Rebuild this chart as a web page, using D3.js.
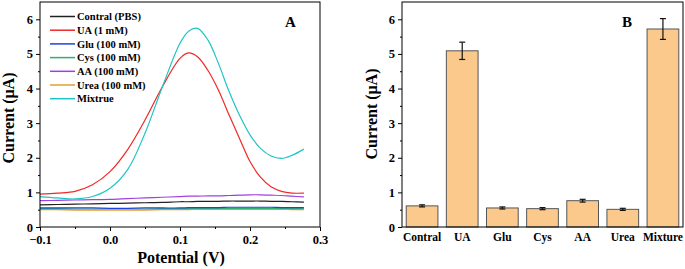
<!DOCTYPE html>
<html>
<head>
<meta charset="utf-8">
<script src="https://cdn.jsdelivr.net/npm/d3@7"></script>
<style>
  body { margin: 0; background: #fff; }
  svg text { font-family: "Liberation Serif", "Times New Roman", serif; font-weight: bold; }
</style>
</head>
<body>
<svg width="685" height="269"></svg>
<script>
// Panel A: potential (V) and current (uA) per curve
const potential = [-0.1, -0.075, -0.05, -0.025, 0.0, 0.025, 0.05, 0.075, 0.1, 0.112, 0.125, 0.14, 0.155, 0.17, 0.185, 0.2, 0.215, 0.23, 0.245, 0.26, 0.277];
const contral = [0.64, 0.65, 0.66, 0.67, 0.68, 0.69, 0.70, 0.71, 0.73, 0.73, 0.74, 0.74, 0.74, 0.75, 0.75, 0.75, 0.75, 0.74, 0.74, 0.73, 0.72];
const ua      = [0.95, 0.98, 1.03, 1.22, 1.60, 2.23, 3.09, 4.06, 4.87, 5.03, 4.92, 4.52, 3.95, 3.24, 2.56, 1.89, 1.44, 1.16, 1.03, 0.98, 0.98];
const glu     = [0.55, 0.55, 0.55, 0.55, 0.54, 0.54, 0.55, 0.55, 0.55, 0.56, 0.56, 0.56, 0.56, 0.57, 0.57, 0.57, 0.57, 0.57, 0.56, 0.56, 0.56];
const cys     = [0.53, 0.53, 0.52, 0.52, 0.52, 0.52, 0.52, 0.53, 0.53, 0.53, 0.54, 0.54, 0.54, 0.54, 0.54, 0.54, 0.54, 0.54, 0.54, 0.53, 0.53];
const aa      = [0.76, 0.77, 0.78, 0.79, 0.80, 0.82, 0.84, 0.86, 0.88, 0.89, 0.89, 0.90, 0.90, 0.91, 0.92, 0.93, 0.93, 0.92, 0.91, 0.89, 0.87];
const urea    = [0.50, 0.50, 0.49, 0.49, 0.49, 0.49, 0.49, 0.50, 0.50, 0.50, 0.51, 0.51, 0.51, 0.51, 0.51, 0.51, 0.51, 0.51, 0.51, 0.50, 0.50];
const mixtrue = [0.88, 0.84, 0.81, 0.88, 1.12, 1.65, 2.71, 4.06, 5.31, 5.65, 5.74, 5.40, 4.72, 3.92, 3.23, 2.66, 2.27, 2.05, 1.98, 2.07, 2.25];

const seriesNames = ["Contral (PBS)", "UA (1 mM)", "Glu (100 mM)", "Cys (100 mM)", "AA (100 mM)", "Urea (100 mM)", "Mixtrue"];
const seriesValues = [contral, ua, glu, cys, aa, urea, mixtrue];
const seriesColors = ["#222222", "#f02828", "#2040e0", "#30b070", "#a040e0", "#e0a030", "#20c4c4"];

// Panel B: bar values with error
const categories = ["Contral", "UA", "Glu", "Cys", "AA", "Urea", "Mixture"];
const barValues = [0.61, 5.09, 0.55, 0.53, 0.76, 0.51, 5.72];
const barErrors = [0.03, 0.25, 0.03, 0.03, 0.04, 0.03, 0.30];

const yTicks = [0, 1, 2, 3, 4, 5, 6];
const xTicks = [-0.1, 0.0, 0.1, 0.2, 0.3];

const svg = d3.select("svg");

// ---------- panel A ----------
const a = {left: 40, top: 2, width: 280, height: 225};
const gA = svg.append("g").attr("transform", "translate(" + a.left + "," + a.top + ")");

const xA = d3.scaleLinear().domain([-0.1, 0.3]).range([0, a.width]);
const yA = d3.scaleLinear().domain([0, 6.5]).range([a.height, 0]);

const line = d3.line()
    .x((d, i) => xA(potential[i]))
    .y(d => yA(d))
    .curve(d3.curveCatmullRom.alpha(0.5));

// low lines first, then AA, contral, UA, mixture on top
const order = [5, 3, 2, 0, 4, 1, 6];
order.forEach(k => {
    gA.append("path")
        .datum(seriesValues[k])
        .attr("fill", "none")
        .attr("stroke", seriesColors[k])
        .attr("stroke-width", 1.2)
        .attr("d", line);
});

function frame(g, w, h) {
    g.append("rect")
        .attr("width", w).attr("height", h)
        .attr("fill", "none").attr("stroke", "#000").attr("stroke-width", 1);
}

function yAxis(g, y) {
    g.append("g")
        .call(d3.axisLeft(y).tickValues(d3.range(0.5, 6.5, 1)).tickSize(2).tickFormat(""))
        .call(s => s.select(".domain").remove());
    g.append("g")
        .call(d3.axisLeft(y).tickValues(yTicks).tickSize(4).tickPadding(3).tickFormat(d3.format("d")))
        .call(s => s.select(".domain").remove())
        .selectAll("text").style("font-size", "12.5px");
}

frame(gA, a.width, a.height);
yAxis(gA, yA);

gA.append("g")
    .attr("transform", "translate(0," + a.height + ")")
    .call(d3.axisBottom(xA).tickValues(d3.range(-0.05, 0.3, 0.1)).tickSize(2).tickFormat(""))
    .call(s => s.select(".domain").remove());
gA.append("g")
    .attr("transform", "translate(0," + a.height + ")")
    .call(d3.axisBottom(xA).tickValues(xTicks).tickSize(4).tickPadding(4).tickFormat(d3.format(".1f")))
    .call(s => s.select(".domain").remove())
    .selectAll("text").style("font-size", "12.5px");

// legend
const legend = gA.append("g").attr("transform", "translate(10,14.5)");
seriesNames.forEach((name, i) => {
    const row = legend.append("g").attr("transform", "translate(0," + i * 13.7 + ")");
    row.append("line").attr("x1", 0).attr("x2", 25)
        .attr("stroke", seriesColors[i]).attr("stroke-width", 1.5);
    row.append("text").attr("x", 27).attr("dy", "0.35em")
        .style("font-size", "10.5px").text(name);
});

gA.append("text").attr("x", 245).attr("y", 25).style("font-size", "15px").text("A");

svg.append("text")
    .attr("transform", "translate(14,118) rotate(-90)")
    .attr("text-anchor", "middle").style("font-size", "16px").text("Current (μA)");
svg.append("text")
    .attr("x", 181).attr("y", 263)
    .attr("text-anchor", "middle").style("font-size", "16px").text("Potential (V)");

// ---------- panel B ----------
const b = {left: 402, top: 2, width: 281, height: 225};
const gB = svg.append("g").attr("transform", "translate(" + b.left + "," + b.top + ")");

const xB = d3.scaleBand().domain(categories).range([0, b.width]).paddingInner(0.21).paddingOuter(0.105);
const yB = d3.scaleLinear().domain([0, 6.5]).range([b.height, 0]);

gB.selectAll(".bar")
    .data(categories)
    .join("rect")
    .attr("class", "bar")
    .attr("x", d => xB(d))
    .attr("y", (d, i) => yB(barValues[i]))
    .attr("width", xB.bandwidth())
    .attr("height", (d, i) => yB(0) - yB(barValues[i]))
    .attr("fill", "#fcc98d")
    .attr("stroke", "#555")
    .attr("stroke-width", 1);

const errG = gB.selectAll(".err")
    .data(categories)
    .join("g")
    .attr("class", "err")
    .attr("transform", d => "translate(" + (xB(d) + xB.bandwidth() / 2) + ",0)");
errG.append("line")
    .attr("y1", (d, i) => yB(barValues[i] + barErrors[i]))
    .attr("y2", (d, i) => yB(barValues[i] - barErrors[i]))
    .attr("stroke", "#111").attr("stroke-width", 1.2);
[1, -1].forEach(sgn => {
    errG.append("line")
        .attr("x1", -3).attr("x2", 3)
        .attr("y1", (d, i) => yB(barValues[i] + sgn * barErrors[i]))
        .attr("y2", (d, i) => yB(barValues[i] + sgn * barErrors[i]))
        .attr("stroke", "#111").attr("stroke-width", 1.2);
});

frame(gB, b.width, b.height);
yAxis(gB, yB);

gB.append("g")
    .attr("transform", "translate(0," + b.height + ")")
    .call(d3.axisBottom(xB).tickSize(0).tickPadding(6))
    .call(s => s.select(".domain").remove())
    .selectAll("text").style("font-size", "11.5px");

gB.append("text").attr("x", 220).attr("y", 25).style("font-size", "15px").text("B");

svg.append("text")
    .attr("transform", "translate(377,114) rotate(-90)")
    .attr("text-anchor", "middle").style("font-size", "16px").text("Current (μA)");
</script>
</body>
</html>
